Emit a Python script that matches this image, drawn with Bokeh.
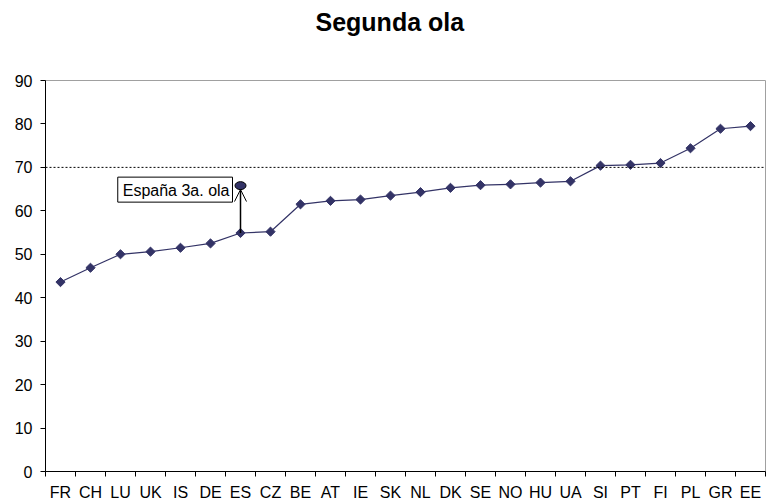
import numpy as np
from bokeh.plotting import figure
from bokeh.models import Range1d, FixedTicker, Span, Label, Arrow, OpenHead, Title
from bokeh.embed import file_html
from bokeh.resources import INLINE

# ---- data ----
countries = ["FR", "CH", "LU", "UK", "IS", "DE", "ES", "CZ", "BE", "AT", "IE", "SK",
             "NL", "DK", "SE", "NO", "HU", "UA", "SI", "PT", "FI", "PL", "GR", "EE"]
values = [43.6, 46.9, 50.0, 50.6, 51.5, 52.5, 54.9, 55.2, 61.5, 62.3, 62.6, 63.5,
          64.3, 65.3, 65.9, 66.1, 66.5, 66.8, 70.4, 70.6, 71.0, 74.4, 78.9, 79.5]
y_ticks = [0, 10, 20, 30, 40, 50, 60, 70, 80, 90]
threshold = 70
title_text = "Segunda ola"
third_wave_country = "ES"
third_wave_value = 65.8
third_wave_label = "España 3a. ola"

NAVY = "#333366"
FONT = "Liberation Sans"

xs = [i + 0.5 for i in range(len(countries))]

p = figure(width=767, height=504, output_backend="svg", toolbar_location=None,
           x_range=Range1d(0, len(countries)), y_range=Range1d(y_ticks[0], y_ticks[-1]),
           min_border_left=45, min_border_right=2, min_border_top=80, min_border_bottom=33)

# real title on the outside, spacer next to the frame
p.title = Title(text=title_text, align="left", offset=270, standoff=9,
                text_font=FONT, text_font_size="25px", text_font_style="bold",
                text_color="black")
p.add_layout(Title(text=" ", text_font=FONT, text_font_size="10px", standoff=27), "above")

p.outline_line_color = "#a0a0a0"
p.outline_line_width = 1
p.xgrid.visible = False
p.ygrid.visible = False
p.background_fill_color = "white"
p.border_fill_color = "white"

# x axis: labels at centers, ticks at category boundaries
p.xaxis.ticker = FixedTicker(ticks=xs, minor_ticks=list(range(len(countries) + 1)))
p.xaxis.major_label_overrides = {x: c for x, c in zip(xs, countries)}
p.xaxis.major_tick_out = 0
p.xaxis.major_tick_in = 0
p.xaxis.minor_tick_out = 5
p.xaxis.minor_tick_in = 0
p.xaxis.major_label_standoff = 7
p.xaxis.axis_line_color = "black"
p.xaxis.minor_tick_line_color = "black"

# y axis
p.yaxis.ticker = FixedTicker(ticks=y_ticks, minor_ticks=[])
p.yaxis.major_tick_out = 5
p.yaxis.major_tick_in = 0
p.yaxis.minor_tick_out = 0
p.yaxis.minor_tick_in = 0
p.yaxis.major_label_standoff = 8
p.yaxis.axis_line_color = "black"

for ax in (p.xaxis[0], p.yaxis[0]):
    ax.major_label_text_font = FONT
    ax.major_label_text_font_size = "16px"
    ax.major_label_text_color = "black"
    ax.major_tick_line_color = "black"

# threshold line
p.add_layout(Span(location=threshold, dimension="width", line_color="black",
                  line_width=1, line_dash="2 2"))

# series
p.line(xs, values, line_color=NAVY, line_width=1.2)
p.scatter(xs, values, marker="square", angle=np.pi / 4, size=6.5,
          fill_color=NAVY, line_color=NAVY)

# annotation for Spain third wave
i_es = countries.index(third_wave_country)
p.add_layout(Arrow(end=OpenHead(size=12, line_color="black", line_width=1),
                   x_start=xs[i_es], y_start=values[i_es],
                   x_end=xs[i_es], y_end=third_wave_value - 0.9,
                   line_color="black", line_width=1.5))
p.ellipse(x=[xs[i_es]], y=[third_wave_value], width=11, height=8,
          width_units="screen", height_units="screen",
          fill_color=NAVY, line_color="black", line_width=1)
p.add_layout(Label(x=xs[i_es], y=third_wave_value, x_offset=-8, y_offset=-4,
                   text=third_wave_label, text_align="right", text_baseline="middle",
                   text_font=FONT, text_font_size="16px", text_color="black",
                   border_line_color="black", border_line_width=1,
                   background_fill_color="white", padding=[5, 3, 5, 3]))

open("out.html", "w").write(file_html(p, INLINE))
